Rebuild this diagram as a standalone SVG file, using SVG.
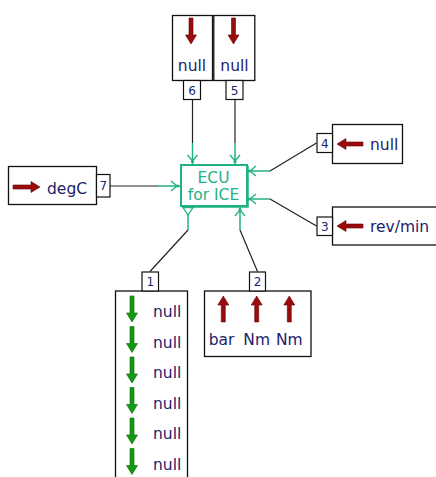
<svg xmlns="http://www.w3.org/2000/svg" width="436" height="477" viewBox="0 0 436 477">
<style>
.box{fill:#fff;stroke:#111;stroke-width:1.3}
.port{fill:#fff;stroke:#111;stroke-width:1.2}
.lbl{font-family:"DejaVu Sans",sans-serif;font-size:15.5px;fill:#22226a}
.plbl{font-family:"DejaVu Sans",sans-serif;font-size:12px;fill:#22226a;text-anchor:middle}
.wire{fill:none;stroke:#222;stroke-width:1.2}
.gw{fill:none;stroke:#1fb184;stroke-width:1.5}
.chev{fill:none;stroke:#1fb184;stroke-width:1.3}
.dot{fill:#1fb184}
.red{fill:#9a0c0c;stroke:#6a0000;stroke-width:0.6}
.grn{fill:#139a13;stroke:#0a6a0a;stroke-width:0.6}
.ecu{fill:#fff;stroke:#1fb184;stroke-width:2}
.ecut{font-family:"DejaVu Sans",sans-serif;font-size:15.5px;fill:#1fb184;text-anchor:middle}
</style>
<defs>
<path id="arrD" d="M-2,0 H2 V17 H5.5 L0,26 L-5.5,17 H-2 Z"/>
</defs>

<g id="connectors">
<path class="wire" d="M192.5,99.5 V143"/>
<path class="gw" d="M192.5,143 V164"/>
<path class="chev" d="M187.5,155 L192.5,161 L197.5,155"/><circle class="dot" cx="192.5" cy="161.5" r="1.6"/>
<path class="wire" d="M235,99.5 V143"/>
<path class="gw" d="M235,143 V164"/>
<path class="chev" d="M230,155 L235,161 L240,155"/><circle class="dot" cx="235" cy="161.5" r="1.6"/>
<path class="wire" d="M110,186 H158"/>
<path class="gw" d="M158,186 H180"/>
<path class="chev" d="M171,181 L177,186 L171,191"/><circle class="dot" cx="177.5" cy="186" r="1.6"/>
<path class="wire" d="M316.5,143 L270,171"/>
<path class="gw" d="M270,171 H247"/>
<path class="chev" d="M256,166 L250,171 L256,176"/><circle class="dot" cx="249.5" cy="171" r="1.6"/>
<path class="wire" d="M316.5,226 L270,199"/>
<path class="gw" d="M270,199 H247"/>
<path class="chev" d="M256,194 L250,199 L256,204"/><circle class="dot" cx="249.5" cy="199" r="1.6"/>
<path class="wire" d="M150,271.5 L188,230"/>
<path class="gw" d="M188,230 V215"/>
<path class="chev" d="M183,207.5 L193,207.5 L188,215 Z"/>
<path class="wire" d="M257.5,271.5 L240,230"/>
<path class="gw" d="M240,230 V207"/>
<path class="chev" d="M235,216 L240,210 L245,216"/><circle class="dot" cx="240" cy="209.5" r="1.6"/>
</g>

<g id="ecu">
<rect class="ecu" x="181" y="165" width="66" height="41"/>
<path d="M248,166 V207 H182" fill="none" stroke="#1fb184" stroke-width="1.5"/>
<text class="ecut" x="213.5" y="182.5">ECU</text>
<text class="ecut" x="213.5" y="200">for ICE</text>
</g>

<g id="node6">
<rect class="box" x="172.5" y="15.5" width="40" height="65"/>
<use href="#arrD" class="red" x="191" y="18"/>
<text class="lbl" x="192" y="71" text-anchor="middle">null</text>
<rect class="port" x="183.5" y="80.5" width="17" height="19"/>
<text class="plbl" x="192" y="95">6</text>
</g>

<g id="node5">
<rect class="box" x="213.8" y="15.5" width="41" height="65"/>
<use href="#arrD" class="red" x="233.5" y="18"/>
<text class="lbl" x="234.5" y="71" text-anchor="middle">null</text>
<rect class="port" x="226" y="80.5" width="17" height="19"/>
<text class="plbl" x="234.5" y="95">5</text>
</g>

<g id="node7">
<rect class="box" x="8.5" y="166.5" width="88" height="38"/>
<path class="red" d="M13,185 H31 V181.5 L40,187 L31,192.5 V189 H13 Z"/>
<text class="lbl" x="47" y="194">degC</text>
<rect class="port" x="96.5" y="174.5" width="13.5" height="22.5"/>
<text class="plbl" x="103.3" y="190">7</text>
</g>

<g id="node4">
<rect class="box" x="332.5" y="124.5" width="70" height="39"/>
<path class="red" d="M363,142 H346 V138.5 L337,144 L346,149.5 V146 H363 Z"/>
<text class="lbl" x="370" y="150">null</text>
<rect class="port" x="317" y="133.5" width="15.5" height="19"/>
<text class="plbl" x="324.7" y="148">4</text>
</g>

<g id="node3">
<rect class="box" x="332.5" y="207" width="110" height="38"/>
<path class="red" d="M363,224 H346 V220.5 L337,226 L346,231.5 V228 H363 Z"/>
<text class="lbl" x="370" y="232">rev/min</text>
<rect class="port" x="317" y="217" width="15.5" height="18.5"/>
<text class="plbl" x="324.7" y="231">3</text>
</g>

<g id="node2">
<rect class="box" x="204.5" y="291" width="106.5" height="65.5"/>
<use href="#arrD" class="red" transform="translate(223.3,322) rotate(180)"/>
<use href="#arrD" class="red" transform="translate(256.7,322) rotate(180)"/>
<use href="#arrD" class="red" transform="translate(289.3,322) rotate(180)"/>
<text class="lbl" x="221.5" y="345" text-anchor="middle">bar</text>
<text class="lbl" x="256.7" y="345" text-anchor="middle">Nm</text>
<text class="lbl" x="289.3" y="345" text-anchor="middle">Nm</text>
<rect class="port" x="249.5" y="272" width="16" height="19"/>
<text class="plbl" x="257.5" y="286">2</text>
</g>

<g id="node1">
<rect class="box" x="115.5" y="291" width="72" height="200"/>
<use href="#arrD" class="grn" x="132" y="296"/>
<text class="lbl" x="153" y="317">null</text>
<use href="#arrD" class="grn" x="132" y="326.5"/>
<text class="lbl" x="153" y="347.5">null</text>
<use href="#arrD" class="grn" x="132" y="357"/>
<text class="lbl" x="153" y="378">null</text>
<use href="#arrD" class="grn" x="132" y="387.5"/>
<text class="lbl" x="153" y="408.5">null</text>
<use href="#arrD" class="grn" x="132" y="418"/>
<text class="lbl" x="153" y="439">null</text>
<use href="#arrD" class="grn" x="132" y="448.5"/>
<text class="lbl" x="153" y="469.5">null</text>
<rect class="port" x="142" y="272" width="16.5" height="19"/>
<text class="plbl" x="150.2" y="286">1</text>
</g>
</svg>
